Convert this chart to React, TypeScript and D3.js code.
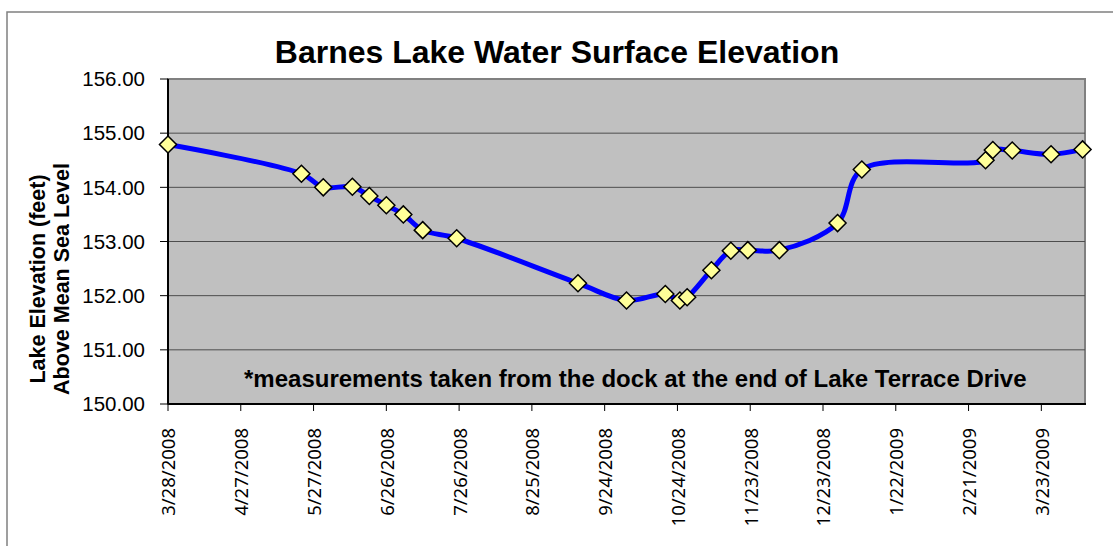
import React from "react";
import * as d3 from "d3";

// measurement dates and lake elevations (feet above mean sea level)
const dates = [
  "3/28/2008", "5/22/2008", "5/31/2008", "6/12/2008", "6/19/2008", "6/26/2008",
  "7/3/2008", "7/11/2008", "7/25/2008", "9/13/2008", "10/3/2008", "10/19/2008",
  "10/25/2008", "10/28/2008", "11/7/2008", "11/15/2008", "11/22/2008", "12/5/2008",
  "12/29/2008", "1/8/2009", "2/28/2009", "3/3/2009", "3/11/2009", "3/27/2009",
  "4/9/2009",
];
const elevations = [
  154.79, 154.25, 154.0, 154.01, 153.84, 153.67,
  153.5, 153.21, 153.06, 152.23, 151.91, 152.03,
  151.91, 151.97, 152.47, 152.83, 152.84, 152.84,
  153.34, 154.33, 154.5, 154.69, 154.68, 154.61,
  154.7,
];

const xTickLabels = [
  "3/28/2008", "4/27/2008", "5/27/2008", "6/26/2008", "7/26/2008", "8/25/2008",
  "9/24/2008", "10/24/2008", "11/23/2008", "12/23/2008", "1/22/2009", "2/21/2009",
  "3/23/2009",
];
const yTicks = [150, 151, 152, 153, 154, 155, 156];

const title = "Barnes Lake Water Surface Elevation";
const note = "*measurements taken from the dock at the end of Lake Terrace Drive";

const W = 1113;
const H = 546;
const plot = { left: 168, right: 1085, top: 79, bottom: 404 };

const parse = d3.timeParse("%m/%d/%Y");

export default function App() {
  const data = dates.map((d, i) => ({ date: parse(d) as Date, value: elevations[i] }));

  const x = d3
    .scaleTime()
    .domain([parse("3/28/2008") as Date, parse("4/10/2009") as Date])
    .range([plot.left, plot.right]);
  const y = d3.scaleLinear().domain([150, 156]).range([plot.bottom, plot.top]);

  const line = d3
    .line<{ date: Date; value: number }>()
    .x((d) => x(d.date))
    .y((d) => y(d.value))
    .curve(d3.curveCatmullRom.alpha(0.5));

  const diamond = d3.symbol().type(d3.symbolDiamond2).size(185)();

  const arial = "'Liberation Sans', Arial, sans-serif";

  return (
    <svg
      width={W}
      height={H}
      style={{ position: "absolute", left: 0, top: 0, background: "#fff" }}
    >
      {/* chart area border */}
      <rect x={7} y={12} width={W + 10} height={H + 10} fill="#fff" stroke="#808080" strokeWidth={1.5} />

      <text
        x={557}
        y={63}
        textAnchor="middle"
        fontFamily={arial}
        fontWeight="bold"
        fontSize={32}
      >
        {title}
      </text>

      {/* plot area */}
      <rect
        x={plot.left}
        y={plot.top}
        width={plot.right - plot.left}
        height={plot.bottom - plot.top}
        fill="#C0C0C0"
        stroke="#808080"
        strokeWidth={2}
      />

      {/* gridlines + y axis */}
      {yTicks.map((t) => (
        <g key={t}>
          {t > 150 && t < 156 && (
            <line x1={plot.left} x2={plot.right} y1={y(t)} y2={y(t)} stroke="#4d4d4d" strokeWidth={1} />
          )}
          <line x1={plot.left - 8} x2={plot.left} y1={y(t)} y2={y(t)} stroke="#000" strokeWidth={1} />
          <text
            x={145}
            y={y(t)}
            dy="0.35em"
            textAnchor="end"
            fontFamily={arial}
            fontSize={20.5}
          >
            {t.toFixed(2)}
          </text>
        </g>
      ))}
      <line x1={plot.left} x2={plot.left} y1={plot.top} y2={plot.bottom} stroke="#000" strokeWidth={2} />

      {/* x axis */}
      <line x1={plot.left} x2={plot.right + 1} y1={plot.bottom} y2={plot.bottom} stroke="#000" strokeWidth={2} />
      {xTickLabels.map((lbl) => {
        const px = x(parse(lbl) as Date);
        return (
          <g key={lbl}>
            <line x1={px} x2={px} y1={plot.bottom} y2={plot.bottom + 7} stroke="#000" strokeWidth={1} />
            <text
              transform={`translate(${px + 1},428) rotate(-90)`}
              dy="0.35em"
              textAnchor="end"
              fontFamily="'Noto Sans', sans-serif"
              fontSize={18.5}
            >
              {lbl}
            </text>
          </g>
        );
      })}

      {/* y axis title */}
      <g transform="translate(45,279) rotate(-90)" fontFamily={arial} fontWeight="bold" fontSize={21.5}>
        <text x={0} y={0} textAnchor="middle">Lake Elevation (feet)</text>
        <text x={0} y={24} textAnchor="middle">Above Mean Sea Level</text>
      </g>

      <text x={244} y={387} fontFamily={arial} fontWeight="bold" fontSize={24}>
        {note}
      </text>

      {/* series */}
      <path d={line(data) ?? ""} fill="none" stroke="#0000FF" strokeWidth={5} />
      {data.map((d, i) => (
        <path
          key={i}
          d={diamond ?? ""}
          transform={`translate(${x(d.date)},${y(d.value)})`}
          fill="#FFFF99"
          stroke="#000"
          strokeWidth={1.5}
        />
      ))}
    </svg>
  );
}
